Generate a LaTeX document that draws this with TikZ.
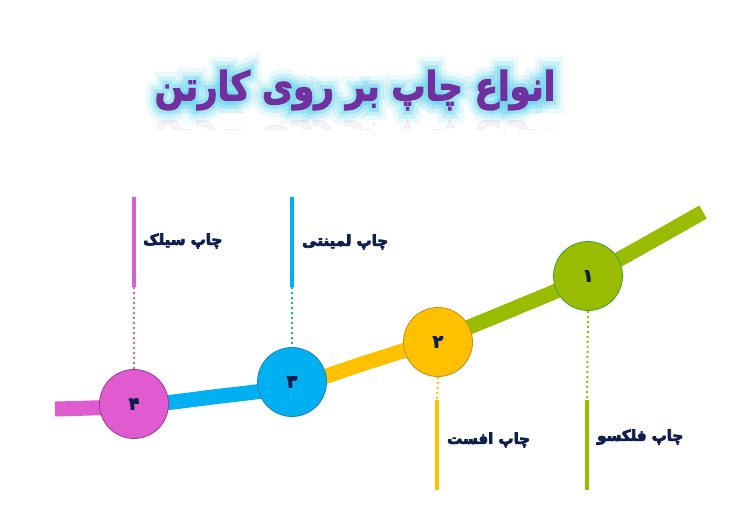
\documentclass[tikz,border=0pt]{standalone}
\usepackage{fontspec}
\usetikzlibrary{calc}
\TeXXeTstate=1
\newfontfamily\arabicfont[Script=Arabic,FakeBold=5]{DejaVu Sans Bold}
\newfontfamily\titlefnt[Script=Arabic,FakeBold=3]{DejaVu Sans Bold}
\newfontfamily\glowa[Script=Arabic,FakeBold=65]{DejaVu Sans Bold}
\newfontfamily\glowb[Script=Arabic,FakeBold=42]{DejaVu Sans Bold}
\newfontfamily\glowc[Script=Arabic,FakeBold=22]{DejaVu Sans Bold}
\definecolor{pinkc}{HTML}{E15BD0}
\definecolor{pinkd}{HTML}{9E3A8F}
\definecolor{bluec}{HTML}{00B0F0}
\definecolor{blued}{HTML}{1F7FB8}
\definecolor{yellowc}{HTML}{FFC000}
\definecolor{yellowd}{HTML}{D08A10}
\definecolor{greenc}{HTML}{99BB00}
\definecolor{greend}{HTML}{3FA040}
\definecolor{navy}{HTML}{0E1E4E}
\definecolor{titlec}{HTML}{7030A0}
\definecolor{glowcol}{HTML}{4FCFEA}
\begin{document}
\begin{tikzpicture}[x=1pt,y=-1pt,
  stepcircle/.style={circle, draw, line width=0.8pt, minimum size=69pt, inner sep=0pt,
    font=\arabicfont\fontsize{17}{17}\selectfont, text=navy},
  steplabel/.style={font=\arabicfont\fontsize{15}{18}\selectfont, text=navy, anchor=west, inner sep=0pt},
  barline/.style={line width=4pt},
  dotline/.style={line width=2pt, dash pattern=on 2pt off 3pt},
  titlefont/.style={font=\fontsize{40}{40}\selectfont, inner sep=0pt, xscale=0.85}]
\useasboundingbox (0,0) rectangle (747,529);
\fill[white] (0,0) rectangle (747,529);
% title glow
\node[titlefont, text=glowcol, opacity=0.12] at (355,90) {\glowa\beginR انواع چاپ بر روی کارتن\endR};
\node[titlefont, text=glowcol, opacity=0.2] at (355,90) {\glowb\beginR انواع چاپ بر روی کارتن\endR};
\node[titlefont, text=glowcol, opacity=0.32] at (355,90) {\glowc\beginR انواع چاپ بر روی کارتن\endR};
% faint reflection
\begin{scope}
  \clip (140,110) rectangle (570,130);
  \node[titlefont, text=titlec!60!pink, opacity=0.08, yscale=-1] at (355,140) {\titlefnt\beginR انواع چاپ بر روی کارتن\endR};
\end{scope}
\node[titlefont, text=titlec] (title) at (355,90) {\titlefnt\beginR انواع چاپ بر روی کارتن\endR};
% curve
\foreach \xa/\xb/\c in {0/134/pinkc, 134/292/bluec, 292/438/yellowc, 438/747/greenc}{
  \begin{scope}
    \clip (\xa,0) rectangle (\xb,529);
    \draw[\c, line width=15pt] plot[smooth, tension=0.55] coordinates
      {(55,409) (134,406) (213,397) (292,386) (365,363) (438,339) (513,309) (588,276) (703,212)};
  \end{scope}
}
% bars
\coordinate (b4t) at (134,197); \coordinate (b4b) at (134,287);
\coordinate (b3t) at (292,197); \coordinate (b3b) at (292,287);
\coordinate (b2t) at (437,400); \coordinate (b2b) at (437,490);
\coordinate (b1t) at (587,400); \coordinate (b1b) at (587,490);
\draw[barline, pinkc] (b4t) -- (b4b);
\draw[barline, bluec] (b3t) -- (b3b);
\draw[barline, yellowc] (b2t) -- (b2b);
\draw[barline, greenc] (b1t) -- (b1b);
% circles
\node[stepcircle, fill=pinkc, draw=pinkd] (c4) at (134,404) {\beginR ۴\endR};
\node[stepcircle, fill=bluec, draw=blued] (c3) at (292,382) {\beginR ۳\endR};
\node[stepcircle, fill=yellowc, draw=yellowd] (c2) at (438,342) {\beginR ۲\endR};
\node[stepcircle, fill=greenc, draw=greend] (c1) at (588,276) {\beginR ۱\endR};
% dotted connectors
\draw[dotline, pinkc] (b4b) -- (c4.north);
\draw[dotline, bluec] (b3b) -- (c3.north);
\draw[dotline, yellowc] (c2.south) -- (b2t);
\draw[dotline, greenc] (c1.south) -- (b1t);
% labels
\node[steplabel] (l4) at (143,241) {\beginR چاپ سیلک\endR};
\node[steplabel] (l3) at (302,242) {\beginR چاپ لمینتی\endR};
\node[steplabel] (l2) at (447,440) {\beginR چاپ افست\endR};
\node[steplabel] (l1) at (597,437) {\beginR چاپ فلکسو\endR};
\end{tikzpicture}
\end{document}
